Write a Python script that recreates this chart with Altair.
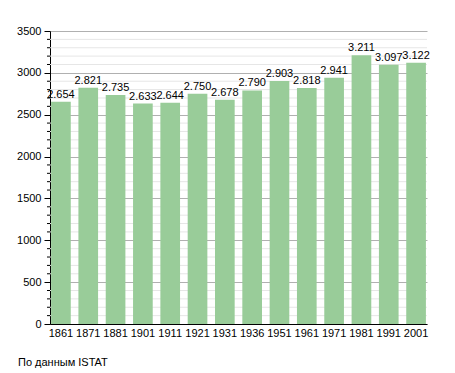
import altair as alt
import pandas as pd

years = ["1861", "1871", "1881", "1901", "1911", "1921", "1931", "1936",
         "1951", "1961", "1971", "1981", "1991", "2001"]
population = [2654, 2821, 2735, 2633, 2644, 2750, 2678, 2790,
              2903, 2818, 2941, 3211, 3097, 3122]
labels = ["2.654", "2.821", "2.735", "2.633", "2.644", "2.750", "2.678", "2.790",
          "2.903", "2.818", "2.941", "3.211", "3.097", "3.122"]
major_ticks = [0, 500, 1000, 1500, 2000, 2500, 3000, 3500]
minor_ticks = [v for v in range(0, 3501, 100) if v % 500 != 0]

df = pd.DataFrame({"year": years, "pop": population, "label": labels})
minor_df = pd.DataFrame({"v": minor_ticks})

FONT = "Liberation Sans"
yscale = alt.Scale(domain=[0, 3500], nice=False, zero=True)

yaxis = alt.Axis(values=major_ticks, labelOverlap=False, format="d",
                 grid=True, gridColor="#b0b0b0",
                 tickSize=6, tickColor="black", domainColor="black",
                 labelColor="black", labelFont=FONT, labelFontSize=11,
                 labelPadding=3)

x = alt.X("year:N", sort=None, title=None,
          scale=alt.Scale(paddingInner=0.28, paddingOuter=0.04),
          axis=alt.Axis(labelAngle=0, ticks=False, domainColor="black",
                        labelColor="black", labelFont=FONT, labelFontSize=11,
                        labelPadding=3, domainWidth=1))

minor_grid = alt.Chart(minor_df).mark_rule(color="#e6e6e6", strokeWidth=1).encode(
    y=alt.Y("v:Q", scale=yscale, title=None, axis=yaxis))

bars = alt.Chart(df).mark_bar(color="#99cc99").encode(
    x=x, y=alt.Y("pop:Q", title=None, scale=yscale, axis=yaxis))

text = alt.Chart(df).mark_text(baseline="bottom", dy=-2, font=FONT,
                               fontSize=11, color="black").encode(
    x=alt.X("year:N", sort=None),
    y=alt.Y("pop:Q", scale=yscale, title=None, axis=yaxis),
    text="label:N")

minor_tick = alt.Chart(minor_df).mark_rule(color="black", strokeWidth=1).encode(
    y=alt.Y("v:Q", scale=yscale, title=None, axis=yaxis),
    x=alt.value(-3), x2=alt.value(0))

chart = (minor_grid + bars + text + minor_tick).properties(
    width=377, height=293,
    autosize=alt.AutoSizeParams(type="none"),
    padding={"left": 42, "top": 23, "right": 20, "bottom": 48},
    title=alt.TitleParams("По данным  ISTAT", orient="bottom", anchor="start",
                          frame="group", dx=-32, offset=19, font=FONT,
                          fontSize=11, fontWeight="normal", color="black"),
).configure_view(stroke=None)

chart.save("out.html", embed_options={"renderer": "svg", "actions": False})
